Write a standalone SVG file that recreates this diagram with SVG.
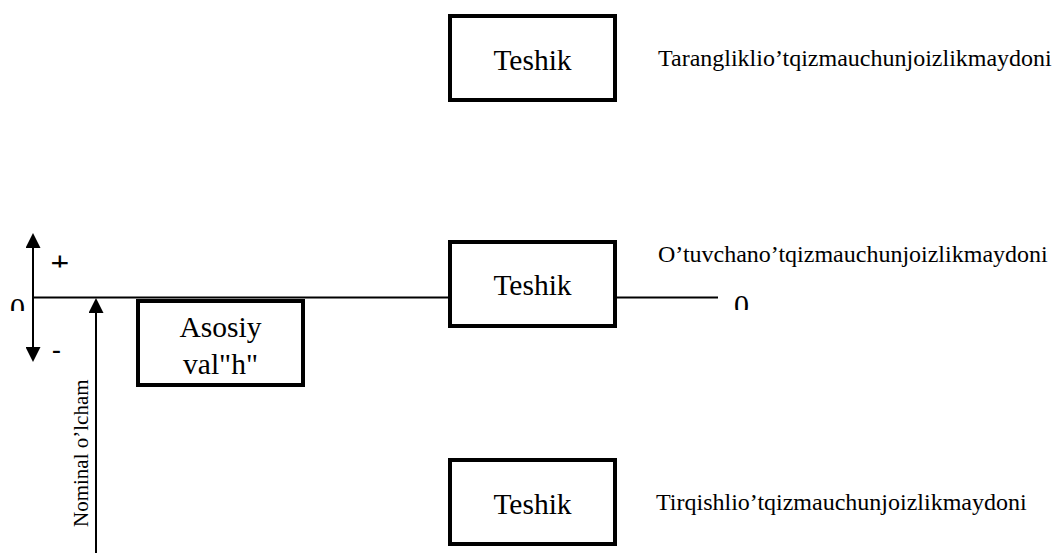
<svg xmlns="http://www.w3.org/2000/svg" width="1054" height="553" viewBox="0 0 1054 553">
  <style>
    .box { fill: #ffffff; stroke: #000000; stroke-width: 4; }
    .ln { stroke: #000000; stroke-width: 2; fill: none; }
    .big { font-family: "Liberation Serif", "Times New Roman", serif; font-size: 29.5px; fill: #000000; }
    .lbl { font-family: "Liberation Serif", "Times New Roman", serif; font-size: 24px; fill: #000000; }
    .zero { font-family: "Liberation Serif", "Times New Roman", serif; font-size: 30px; fill: #000000; }
    .sign { font-family: "Liberation Sans", Arial, sans-serif; fill: #000000; }
    .dim { font-family: "Liberation Serif", "Times New Roman", serif; font-size: 21px; fill: #000000; }
  </style>
  <defs>
    <marker id="arr" viewBox="0 0 15 15" refX="13" refY="7.5" markerWidth="15" markerHeight="15" markerUnits="userSpaceOnUse" orient="auto-start-reverse">
      <path d="M0,0 L15,7.5 L0,15 Z" fill="#000000"/>
    </marker>
    <clipPath id="clipZeroL"><rect x="0" y="280" width="40" height="31"/></clipPath>
    <clipPath id="clipZeroR"><rect x="725" y="280" width="40" height="30"/></clipPath>
    <clipPath id="clipPlus"><rect x="40" y="240" width="40" height="27.5"/></clipPath>
  </defs>
  <rect width="1054" height="553" fill="#ffffff"/>

  <!-- zero line, deviation axis and nominal size arrow -->
  <g id="connectors">
    <line class="ln" x1="33" y1="297.5" x2="450" y2="297.5"/>
    <line class="ln" x1="615" y1="297.5" x2="718" y2="297.5"/>
    <line class="ln" x1="33" y1="235" x2="33" y2="360" marker-start="url(#arr)" marker-end="url(#arr)"/>
    <line class="ln" x1="96" y1="553" x2="96" y2="300" marker-end="url(#arr)"/>
  </g>

  <!-- axis annotations -->
  <g id="axis-labels">
    <text class="zero" x="10" y="318.3" clip-path="url(#clipZeroL)">0</text>
    <text class="zero" x="734" y="315.3" clip-path="url(#clipZeroR)">0</text>
    <text class="sign" x="50.4" y="274" font-size="32" clip-path="url(#clipPlus)">+</text>
    <text class="sign" x="51.8" y="358.5" font-size="28">-</text>
    <text class="dim" transform="translate(88,527) rotate(-90)">Nominal o’lcham</text>
  </g>

  <g id="shaft">
    <rect class="box" x="138" y="301" width="165" height="84"/>
    <text class="big" x="220.5" y="337" text-anchor="middle">Asosiy</text>
    <text class="big" x="220.5" y="374" text-anchor="middle">val"h"</text>
  </g>

  <g id="hole-interference">
    <rect class="box" x="450" y="16" width="165" height="84"/>
    <text class="big" x="532.5" y="70" text-anchor="middle">Teshik</text>
    <text class="lbl" x="658" y="66">Tarangliklio’tqizmauchunjoizlikmaydoni</text>
  </g>

  <g id="hole-transition">
    <rect class="box" x="450" y="242" width="165" height="84"/>
    <text class="big" x="532.5" y="295" text-anchor="middle">Teshik</text>
    <text class="lbl" x="658" y="262">O’tuvchano’tqizmauchunjoizlikmaydoni</text>
  </g>

  <g id="hole-clearance">
    <rect class="box" x="450" y="460" width="165" height="84"/>
    <text class="big" x="532.5" y="514" text-anchor="middle">Teshik</text>
    <text class="lbl" x="656" y="510">Tirqishlio’tqizmauchunjoizlikmaydoni</text>
  </g>
</svg>
